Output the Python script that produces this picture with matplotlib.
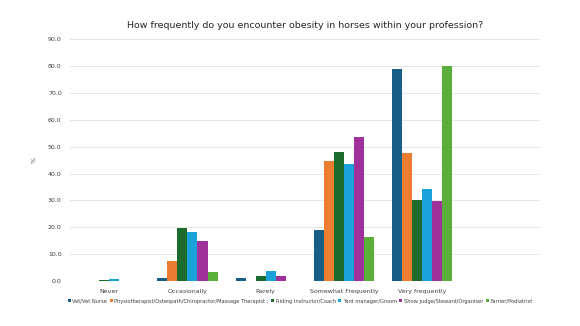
import numpy as np
import matplotlib.pyplot as plt

categories = ["Never", "Occasionally", "Rarely", "Somewhat Frequently", "Very frequently", ""]
series_names = [
    "Vet/Vet Nurse",
    "Physiotherapist/Osteopath/Chiropractor/Massage Therapist ;",
    "Riding Instructor/Coach",
    "Yard manager/Groom",
    "Show judge/Steward/Organiser",
    "Farrier/Podiatrist",
]
vet = [0.0, 1.2, 1.1, 19.0, 78.8, 0]
physio = [0.0, 7.4, 0.0, 44.6, 47.8, 0]
riding = [0.4, 19.6, 2.0, 47.9, 30.1, 0]
yard = [0.7, 18.3, 3.7, 43.4, 34.2, 0]
show = [0.0, 14.9, 1.9, 53.7, 29.6, 0]
farrier = [0.0, 3.3, 0.0, 16.5, 80.0, 0]
colors = ["#175E87", "#ED7D31", "#1E6B2E", "#1BA1DC", "#A0309A", "#5AAE3A"]

series = [vet, physio, riding, yard, show, farrier]

fig = plt.figure(figsize=(5.8, 3.26), dpi=100)
ax = fig.add_axes([0.1207, 0.138, 0.81, 0.742])

x = np.arange(len(categories))
w = 0.128
for i, (vals, name, c) in enumerate(zip(series, series_names, colors)):
    ax.bar(x + (i - 2.5) * w, vals, width=w, color=c, label=name, zorder=3)

ax.set_xlim(-0.5, len(categories) - 0.5)
ax.set_ylim(0, 90)
ax.set_yticks(np.arange(0, 91, 10))
ax.set_yticklabels([f"{v:.1f}" for v in np.arange(0, 91, 10)])
ax.set_xticks(x)
ax.set_xticklabels(categories)
ax.tick_params(length=0, labelsize=4.5, colors="#404040", pad=6)
ax.grid(axis="y", color="#E6E6E6", linewidth=0.7, zorder=0)
for s in ax.spines.values():
    s.set_visible(False)

ax.set_ylabel("%", fontsize=4.5, color="#404040", labelpad=8)
ax.set_title("How frequently do you encounter obesity in horses within your profession?",
             fontsize=6.8, color="#262626", pad=8)

ax.legend(loc="upper center", bbox_to_anchor=(0.49, -0.06), ncol=6, frameon=False,
          fontsize=3.7, handlelength=0.6, handleheight=0.6, handletextpad=0.25,
          columnspacing=0.5, labelcolor="#404040", borderaxespad=0.2)

fig.savefig("out.png", dpi=100)
